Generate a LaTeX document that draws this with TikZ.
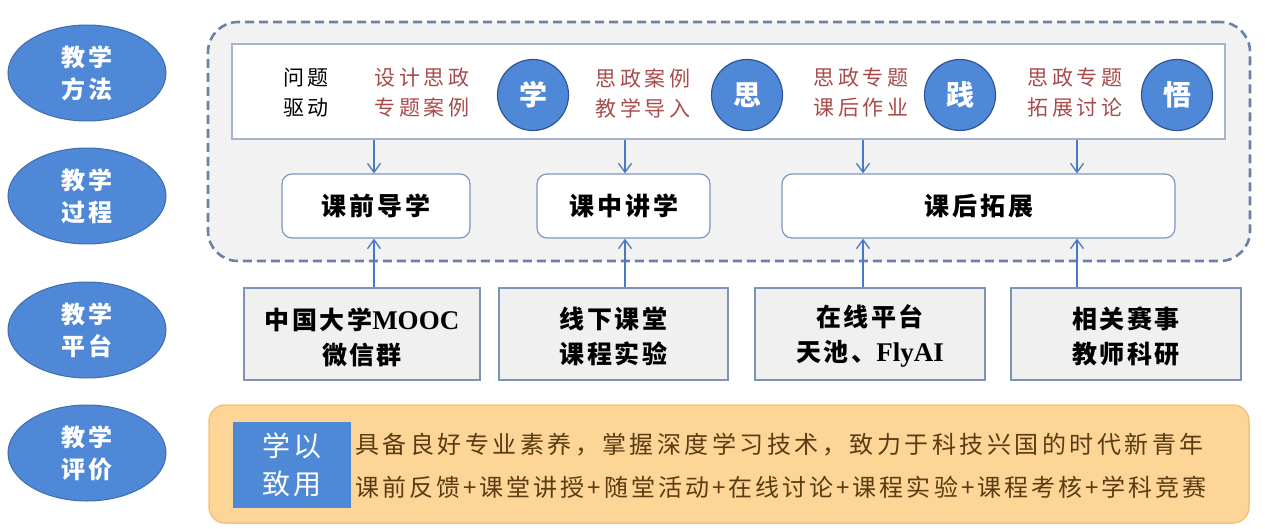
\documentclass[tikz,border=0pt]{standalone}
\usepackage{fontspec}
\setmainfont{Noto Sans CJK SC}
\newfontfamily\latb{Liberation Serif}
\usetikzlibrary{arrows.meta,shapes.geometric}
\definecolor{ellblue}{HTML}{4F88D6}
\definecolor{ellbord}{HTML}{3F6DB0}
\definecolor{circbord}{HTML}{2E5597}
\definecolor{dashc}{HTML}{6B82A6}
\definecolor{panelbg}{HTML}{F2F2F2}
\definecolor{innerb}{HTML}{A4B4CC}
\definecolor{boxb}{HTML}{7F98C0}
\definecolor{platb}{HTML}{7D93B8}
\definecolor{platbg}{HTML}{F0F0F0}
\definecolor{arrc}{HTML}{4A78C8}
\definecolor{redtxt}{HTML}{A94B4B}
\definecolor{orfill}{HTML}{FCD597}
\definecolor{orbord}{HTML}{F2C47C}
\definecolor{browntxt}{HTML}{5A3B12}
\newcommand\fsz[2]{\fontsize{#1}{#2}\selectfont}
\newcommand\ls[1]{\addfontfeature{LetterSpace=#1}}
\tikzset{
  ell/.style={ellipse, fill=ellblue, draw=ellbord, line width=1pt, minimum width=158pt, minimum height=96pt, inner sep=0pt, text=white, align=center, font=\bfseries\fsz{24}{32}\ls{12}},
  circ/.style={circle, fill=ellblue, draw=circbord, line width=1.2pt, minimum size=71pt, inner sep=0pt, text=white, font=\bfseries\fsz{28}{30}},
  redt/.style={text=redtxt, align=center, inner sep=0pt, font=\fsz{21}{30}\ls{16}},
  proc/.style={draw=boxb, fill=white, line width=1.2pt, rounded corners=10pt, minimum height=64pt, inner sep=0pt, font=\bfseries\fsz{25}{30}\ls{12}},
  plat/.style={draw=platb, fill=platbg, line width=1.6pt, minimum width=230pt, minimum height=92pt, inner sep=0pt},
  plattext/.style={align=center, inner sep=0pt, font=\bfseries\fsz{25}{35}\ls{10}},
  arr/.style={draw=arrc, line width=1.3pt, -{Straight Barb[length=9pt,width=13pt]}},
}
\newcommand\latin[1]{{\latb\bfseries\fontsize{27}{35}\selectfont #1}}
\begin{document}
\begin{tikzpicture}[x=1pt,y=-1pt]
\useasboundingbox (0,0) rectangle (1265,529);
% left ellipses
\node[ell] (e1) at (87,73) {教学\\方法};
\node[ell] (e2) at (87,196) {教学\\过程};
\node[ell] (e3) at (87,330) {教学\\平台};
\node[ell] (e4) at (87,453) {教学\\评价};
% dashed panel
\node[draw=dashc, fill=panelbg, line width=2.6pt, dash pattern=on 9pt off 5pt, rounded corners=30pt, minimum width=1042pt, minimum height=239pt, inner sep=0pt] (panel) at (729,141.5) {};
% inner white rect
\node[draw=innerb, fill=white, line width=2pt, minimum width=993pt, minimum height=95pt, inner sep=0pt] (inner) at (728.5,91.5) {};
\node[align=center, inner sep=0pt, font=\fsz{21}{30}\ls{14}] (wt) at (306,93) {问题\\驱动};
\node[redt] (r1) at (422,93) {设计思政\\专题案例};
\node[circ] (c1) at (533,95) {学};
\node[redt] (r2) at (643,93) {思政案例\\教学导入};
\node[circ] (c2) at (747,95) {思};
\node[redt] (r3) at (861,93) {思政专题\\课后作业};
\node[circ] (c3) at (960,95) {践};
\node[redt] (r4) at (1075,93) {思政专题\\拓展讨论};
\node[circ] (c4) at (1177,95) {悟};
% process boxes
\node[proc, minimum width=188pt] (pre) at (376,206) {课前导学};
\node[proc, minimum width=173pt] (mid) at (623.5,206) {课中讲学};
\node[proc, minimum width=393pt] (post) at (978.5,206) {课后拓展};
% platform boxes
\node[plat, minimum width=236pt] (p1) at (362,334) {};
\node[plat, minimum width=229pt] (p2) at (613.5,334) {};
\node[plat] (p3) at (870,334) {};
\node[plat] (p4) at (1126,334) {};
\node[plattext] (t1) at (362,337) {中国大学\latin{MOOC}\\微信群};
\node[plattext] (t2) at (613.5,336) {线下课堂\\课程实验};
\node[plattext] (t3) at (870,336) {在线平台\\天池、\latin{FlyAI}};
\node[plattext] (t4) at (1126,336) {相关赛事\\教师科研};
% arrow x positions
\coordinate (x1) at (374,0);
\coordinate (x2) at (625,0);
\coordinate (x3) at (863,0);
\coordinate (x4) at (1077,0);
\draw[arr] (inner.south -| x1) -- (pre.north -| x1);
\draw[arr] (inner.south -| x2) -- (mid.north -| x2);
\draw[arr] (inner.south -| x3) -- (post.north -| x3);
\draw[arr] (inner.south -| x4) -- (post.north -| x4);
\draw[arr] (p1.north -| x1) -- (pre.south -| x1);
\draw[arr] (p2.north -| x2) -- (mid.south -| x2);
\draw[arr] (p3.north -| x3) -- (post.south -| x3);
\draw[arr] (p4.north -| x4) -- (post.south -| x4);
% evaluation
\node[fill=orfill, draw=orbord, line width=1.5pt, rounded corners=16pt, minimum width=1040pt, minimum height=118pt, inner sep=0pt] (eval) at (729,464) {};
\node[fill=ellblue, minimum width=118pt, minimum height=86pt, inner sep=0pt, text=white, align=center, font=\fsz{28}{38}\ls{8}] (xy) at (292,465) {学以\\致用};
\node[anchor=west, inner sep=0pt, text=browntxt, font=\fsz{24}{30}\ls{14.5}] (et1) at (355,445) {具备良好专业素养，掌握深度学习技术，致力于科技兴国的时代新青年};
\node[anchor=west, inner sep=0pt, text=browntxt, font=\fsz{24}{30}\ls{12.6}] (et2) at (355,487) {课前反馈+课堂讲授+随堂活动+在线讨论+课程实验+课程考核+学科竞赛};
\end{tikzpicture}
\end{document}
